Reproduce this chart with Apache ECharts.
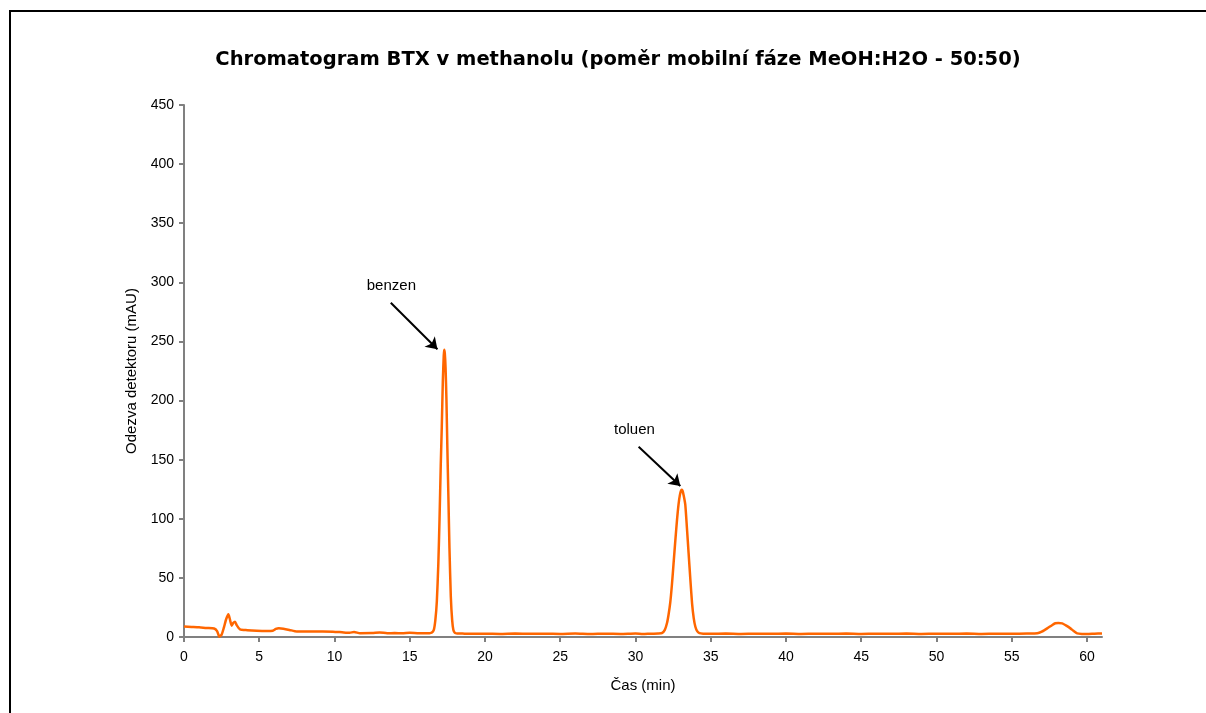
<!DOCTYPE html>
<html>
<head>
<meta charset="utf-8">
<script src="https://cdn.jsdelivr.net/npm/echarts@6/dist/echarts.min.js"></script>
<style>
  html, body { margin: 0; padding: 0; background: #fff; }
  #chart { width: 1206px; height: 713px; }
</style>
</head>
<body>
<div id="chart"></div>
<script>
// Retention time (min) and detector response (mAU)
const timeMin = [
  0, 0.5, 1.0, 1.5, 2.0, 2.2, 2.35, 2.5, 2.65, 2.8, 2.95, 3.05, 3.17, 3.28, 3.39, 3.5, 3.72, 4.2, 4.83, 5.5, 5.9, 6.1, 6.3, 6.6, 7.0, 7.5, 8.0, 9.0, 9.9, 10.5, 11.0, 11.3, 11.7, 12.5, 13.0, 13.5, 14.0, 14.5, 15.0, 15.5, 16.0, 16.3,
  16.45, 16.6, 16.7, 16.8, 16.9, 16.98, 17.06, 17.13, 17.2, 17.26, 17.29, 17.33, 17.38, 17.44, 17.5, 17.57, 17.64, 17.73, 17.82, 17.9, 18.0, 18.15,
  18.5, 19, 20, 21, 22, 23, 24, 25, 26, 27, 28, 29, 30, 30.5, 31, 31.5,
  31.75, 31.95, 32.1, 32.2, 32.31, 32.42, 32.53, 32.65, 32.76, 32.86, 32.95, 33.05, 33.12, 33.2, 33.31, 33.42, 33.53, 33.65, 33.76, 33.87, 33.98, 34.1, 34.25, 34.5,
  35, 36, 37, 38, 39, 40, 41, 42, 43, 44, 45, 46, 47, 48, 49, 50, 51, 52, 53, 54, 55, 56,
  56.7, 57.0, 57.36, 57.7, 57.9, 58.1, 58.36, 58.6, 58.9, 59.1, 59.35, 59.7, 60.0, 60.5, 61.0
];
const responseMAU = [
  8.8, 8.5, 8.2, 7.6, 7.2, 5.0, 0.3, 2.0, 8.0, 15.0, 19.2, 15.0, 9.6, 12.0, 13.0, 10.0, 6.5, 5.8, 5.3, 5.1, 5.3, 6.8, 7.4, 7.0, 6.0, 4.6, 4.7, 4.6, 4.5, 4.0, 3.6, 4.2, 3.2, 3.3, 3.8, 3.2, 3.3, 3.1, 3.5, 3.2, 3.1, 3.2,
  3.5, 6, 14, 30, 62, 100, 145, 178, 217, 238, 243, 240, 228, 200, 160, 118, 75, 34, 14, 6, 3.5, 3.0,
  2.9, 2.7, 2.8, 2.6, 2.9, 2.7, 2.8, 2.6, 2.9, 2.5, 2.8, 2.6, 3.0, 2.5, 2.8, 2.9,
  3.2, 6, 12, 19, 29, 44, 62, 82, 99, 112, 120, 124.5, 124, 120, 112, 92, 71, 48, 28.5, 16, 8.7, 5, 3.2, 2.8,
  2.7, 2.9, 2.6, 2.8, 2.7, 2.9, 2.6, 2.8, 2.7, 2.9, 2.6, 2.8, 2.7, 2.9, 2.6, 2.8, 2.7, 2.9, 2.6, 2.8, 2.7, 2.9,
  3.1, 4.5, 7.3, 10.2, 11.6, 11.8, 11.5, 9.8, 7.3, 5.2, 3.1, 2.6, 2.5, 2.8, 3.0
];
const xTicks = [0, 5, 10, 15, 20, 25, 30, 35, 40, 45, 50, 55, 60];
const yTicks = [0, 50, 100, 150, 200, 250, 300, 350, 400, 450];

// Annotations: label position, arrow start, arrow tip (data units)
const annotNames = ['benzen', 'toluen'];
const annotLabelAt = [[13.78, 296.9], [29.93, 175.4]];
const annotArrowFrom = [[13.74, 282.8], [30.21, 161.0]];
const annotArrowTo = [[16.84, 243.4], [32.98, 127.7]];

const titleText = 'Chromatogram BTX v methanolu (poměr mobilní fáze MeOH:H2O - 50:50)';
const xName = 'Čas (min)';
const yName = 'Odezva detektoru (mAU)';

const seriesData = timeMin.map((t, i) => [t, responseMAU[i]]);
const FONT = '"Liberation Sans", Arial, sans-serif';

const chart = echarts.init(document.getElementById('chart'), null, { renderer: 'canvas' });
chart.setOption({
  animation: false,
  backgroundColor: '#ffffff',
  title: {
    text: titleText,
    left: 613, top: 45, textAlign: 'center',
    textStyle: { fontFamily: '"DejaVu Sans", sans-serif', fontSize: 19.5, fontWeight: 'bold', color: '#000' }
  },
  graphic: [{
    type: 'rect', silent: true,
    shape: { x: 10, y: 11, width: 1400, height: 900 },
    style: { fill: 'none', stroke: '#000', lineWidth: 2 }
  }],
  grid: { left: 184, right: 104, top: 105, bottom: 76 },
  xAxis: {
    type: 'value', min: 0, max: 61, interval: 5,
    name: xName, nameLocation: 'middle', nameGap: 41,
    nameTextStyle: { fontFamily: FONT, fontSize: 15, color: '#000' },
    axisLine: { onZero: false, lineStyle: { color: '#808080', width: 2 } },
    axisTick: { show: true, length: 5, lineStyle: { color: '#808080', width: 2 }, customValues: xTicks },
    axisLabel: { fontFamily: FONT, fontSize: 14, color: '#000', margin: 13, customValues: xTicks },
    splitLine: { show: false }
  },
  yAxis: {
    type: 'value', min: 0, max: 450, interval: 50,
    name: yName, nameLocation: 'middle', nameGap: 38,
    nameTextStyle: { fontFamily: FONT, fontSize: 15, color: '#000' },
    axisLine: { show: true, lineStyle: { color: '#808080', width: 2 } },
    axisTick: { show: true, length: 5, lineStyle: { color: '#808080', width: 2 }, customValues: yTicks },
    axisLabel: { fontFamily: FONT, fontSize: 14, color: '#000', margin: 10, customValues: yTicks },
    splitLine: { show: false }
  },
  series: [{
    type: 'line',
    data: seriesData,
    showSymbol: false,
    smooth: 0.2,
    lineStyle: { color: '#FF6600', width: 2.5 },
    itemStyle: { color: '#FF6600' },
    markLine: {
      silent: true,
      symbol: ['none', 'arrow'],
      symbolSize: 11,
      label: { show: false },
      lineStyle: { color: '#000', width: 2, type: 'solid' },
      data: annotNames.map((n, i) => [{ coord: annotArrowFrom[i] }, { coord: annotArrowTo[i] }])
    },
    markPoint: {
      silent: true,
      symbol: 'circle', symbolSize: 0,
      label: { show: true, position: 'inside', fontFamily: FONT, fontSize: 15, color: '#000', formatter: p => p.name },
      data: annotNames.map((n, i) => ({ name: n, coord: annotLabelAt[i] }))
    }
  }]
});
</script>
</body>
</html>
